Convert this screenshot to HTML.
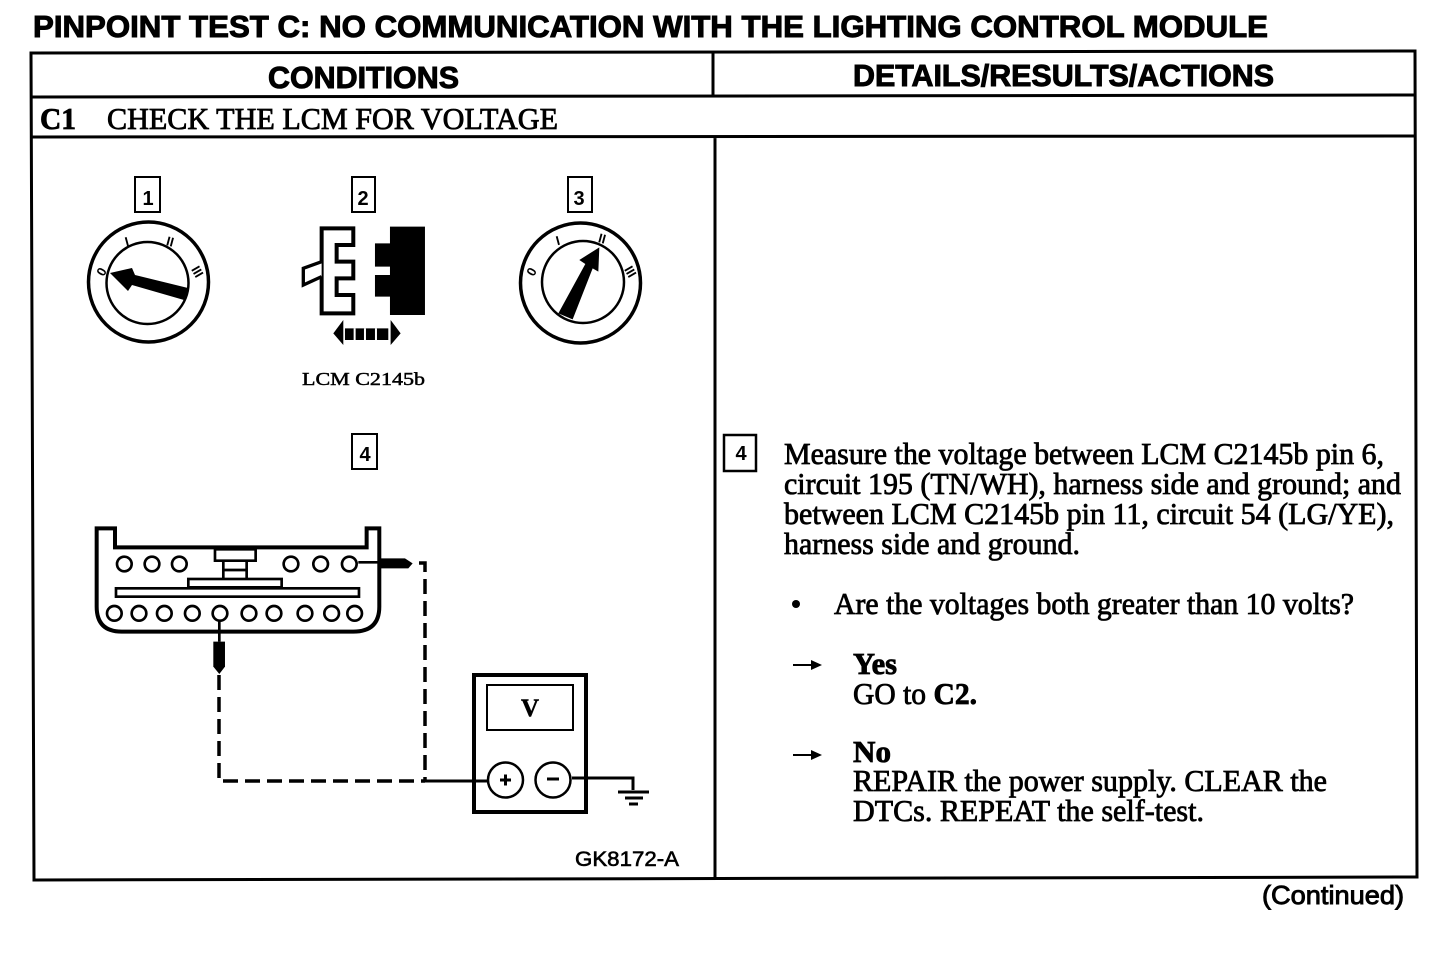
<!DOCTYPE html>
<html><head><meta charset="utf-8"><style>
html,body{margin:0;padding:0;background:#fff}
svg{display:block}
.s{font-family:"Liberation Serif",serif;fill:#000;stroke:#000;stroke-width:.8;font-size:31px}
.h{font-family:"Liberation Sans",sans-serif;font-weight:bold;fill:#000;stroke:#000;stroke-width:1}
</style></head><body>
<svg width="1456" height="960" viewBox="0 0 1456 960" xmlns="http://www.w3.org/2000/svg">
<rect width="1456" height="960" fill="#fff"/>
<text class="h" x="33" y="37" font-size="31" textLength="1235" lengthAdjust="spacingAndGlyphs">PINPOINT TEST C:  NO COMMUNICATION WITH THE LIGHTING CONTROL MODULE</text>
<g fill="none" stroke="#000" stroke-width="3">
<path d="M31 53L1415 51L1417 877L34 880Z"/>
<path d="M31.500 97L1415 95M32 137L1416 136M713 53V96M715 138V879"/>
</g>
<text class="h" x="268" y="88" font-size="31" textLength="191" lengthAdjust="spacingAndGlyphs">CONDITIONS</text>
<text class="h" x="853" y="86" font-size="31" textLength="421" lengthAdjust="spacingAndGlyphs">DETAILS/RESULTS/ACTIONS</text>
<text class="s" x="40" y="129" font-weight="bold" textLength="36" lengthAdjust="spacingAndGlyphs">C1</text>
<text class="s" x="107" y="129" textLength="451" lengthAdjust="spacingAndGlyphs">CHECK THE LCM FOR VOLTAGE</text>

<g fill="none" stroke="#000" stroke-width="2">
<rect x="135" y="177" width="25" height="35"/><rect x="352" y="177" width="23" height="35"/><rect x="568" y="177" width="24" height="35"/><rect x="352" y="434" width="25" height="35"/>
<rect x="724" y="435" width="32" height="36" stroke-width="2.500"/>
</g>
<g font-family="Liberation Sans,sans-serif" font-weight="bold" font-size="20" text-anchor="middle">
<text x="148" y="205">1</text><text x="363" y="205">2</text><text x="579" y="205">3</text><text x="365" y="461">4</text><text x="741" y="460">4</text>
</g>

<!-- switch 1 -->
<g fill="none" stroke="#000">
<circle cx="148.500" cy="282" r="60" stroke-width="3.500"/>
<circle cx="147.500" cy="283" r="41" stroke-width="2.500"/>
</g>
<path d="M110 273L132 268L135 275L188 288L184 300L132 285L128 291Z"/>
<g font-family="Liberation Sans,sans-serif" font-weight="bold" font-size="13" text-anchor="middle">
<text x="102" y="276" transform="rotate(-60 102 272)">0</text><text x="127" y="246" transform="rotate(-15 127 242)">I</text><text x="170" y="246" transform="rotate(15 170 242)">II</text><text x="197" y="276" transform="rotate(60 197 272)">III</text>
</g>

<!-- connector -->
<g transform="translate(60 160) scale(.3333)">
<path d="M785 205H880V255H830V305H880V355H830V405H880V460H785Z" fill="#fff" stroke="#000" stroke-width="12"/>
<path d="M785 305L730 325V375L785 350" fill="#fff" stroke="#000" stroke-width="10"/>
<path d="M990 200H1095V465H990V410H945V345H990V320H945V250H990Z"/>
<path d="M820 520L850 480V555Z"/><path d="M1022 520L992 480V555Z"/>
<path d="M855 505H985V540H855Z"/>
<path d="M884 505V540M915 505V540M948 505V540" stroke="#fff" stroke-width="6"/>
</g>
<text class="s" x="302" y="385" font-size="18" textLength="123" lengthAdjust="spacingAndGlyphs" style="font-size:18px;stroke-width:.5">LCM C2145b</text>

<!-- switch 3 -->
<g fill="none" stroke="#000">
<circle cx="580.500" cy="283" r="60" stroke-width="3.500"/>
<circle cx="583" cy="282" r="41" stroke-width="2.500"/>
</g>
<g transform="translate(480 160) scale(.3333)">
<path d="M358 262L298 300L316 312L235 460L278 478L338 325L355 335Z"/>
</g>
<g font-family="Liberation Sans,sans-serif" font-weight="bold" font-size="13" text-anchor="middle">
<text x="532" y="276" transform="rotate(-60 532 272)">0</text><text x="558" y="245" transform="rotate(-15 558 241)">I</text><text x="602" y="243" transform="rotate(15 602 239)">II</text><text x="630" y="276" transform="rotate(60 630 272)">III</text>
</g>

<!-- module -->
<g transform="translate(80 510) scale(.3333)" fill="none" stroke="#000">
<path d="M50 55H105V112H860V55H898V290Q898 365 820 365H125Q50 365 50 290Z" stroke-width="12"/>
<g stroke-width="8">
<circle cx="133" cy="162" r="22"/><circle cx="216" cy="162" r="22"/><circle cx="298" cy="162" r="22"/><circle cx="633" cy="162" r="22"/><circle cx="722" cy="162" r="22"/><circle cx="808" cy="162" r="22"/>
<circle cx="103" cy="310" r="22"/><circle cx="177" cy="310" r="22"/><circle cx="253" cy="310" r="22"/><circle cx="337" cy="310" r="22"/><circle cx="420" cy="310" r="22"/><circle cx="507" cy="310" r="22"/><circle cx="582" cy="310" r="22"/><circle cx="675" cy="310" r="22"/><circle cx="755" cy="310" r="22"/><circle cx="824" cy="310" r="22"/>
<path d="M405 118H527V152H405ZM430 152V205M500 152V205M430 180H500"/>
<rect x="325" y="207" width="280" height="25"/><rect x="108" y="235" width="729" height="25"/>
<path d="M835 157H900M418 332V395"/>
</g>
<path d="M900 145H975L998 160L985 175H900Z" fill="#000" stroke="none"/>
<path d="M400 395H435V470L418 492L400 470Z" fill="#000" stroke="none"/>
</g>

<!-- wiring -->
<g fill="none" stroke="#000" stroke-width="3.500">
<path d="M419 563H425V781" stroke-dasharray="15 7"/>
<path d="M219 675V781H425" stroke-dasharray="15 7"/>
<path d="M425 781H488M572 778H633V790" stroke-width="3"/>
<path d="M618 792H649M625 798H643M629 804H638" stroke-width="3"/>
</g>

<!-- meter -->
<rect x="474" y="675" width="112" height="137" fill="none" stroke="#000" stroke-width="4"/>
<rect x="487" y="685" width="86" height="45" fill="none" stroke="#000" stroke-width="2"/>
<text x="530" y="716" font-family="Liberation Serif,serif" font-weight="bold" font-size="25" text-anchor="middle" stroke="#000" stroke-width=".5">V</text>
<circle cx="505.500" cy="780" r="17.500" fill="#fff" stroke="#000" stroke-width="2.500"/>
<circle cx="553" cy="780" r="17.500" fill="#fff" stroke="#000" stroke-width="2.500"/>
<path d="M500 780H511M505.500 774.500V785.500M547 779H559" stroke="#000" stroke-width="3" fill="none"/>
<text x="575" y="866" font-family="Liberation Sans,sans-serif" font-size="21" textLength="104" lengthAdjust="spacingAndGlyphs" stroke="#000" stroke-width=".6">GK8172-A</text>

<!-- text -->
<text class="s" x="784" y="464" textLength="600" lengthAdjust="spacingAndGlyphs">Measure the voltage between LCM C2145b pin 6,</text>
<text class="s" x="784" y="494" textLength="617" lengthAdjust="spacingAndGlyphs">circuit 195 (TN/WH), harness side and ground; and</text>
<text class="s" x="784" y="524" textLength="610" lengthAdjust="spacingAndGlyphs">between LCM C2145b pin 11, circuit 54 (LG/YE),</text>
<text class="s" x="784" y="554" textLength="296" lengthAdjust="spacingAndGlyphs">harness side and ground.</text>
<circle cx="796" cy="604" r="4"/>
<text class="s" x="834" y="614" textLength="520" lengthAdjust="spacingAndGlyphs">Are the voltages both greater than 10 volts?</text>
<path d="M793 665H814M793 755H814" stroke="#000" stroke-width="2"/>
<path d="M822 665L811 660V670ZM822 755L811 750V760Z"/>
<text class="s" x="853" y="674" font-weight="bold" textLength="44" lengthAdjust="spacingAndGlyphs">Yes</text>
<text class="s" x="853" y="704" textLength="124" lengthAdjust="spacingAndGlyphs">GO to <tspan font-weight="bold">C2.</tspan></text>
<text class="s" x="853" y="762" font-weight="bold" textLength="38" lengthAdjust="spacingAndGlyphs">No</text>
<text class="s" x="853" y="791" textLength="474" lengthAdjust="spacingAndGlyphs">REPAIR the power supply. CLEAR the</text>
<text class="s" x="853" y="821" textLength="351" lengthAdjust="spacingAndGlyphs">DTCs. REPEAT the self-test.</text>
<text x="1262" y="904" font-family="Liberation Sans,sans-serif" font-size="26" textLength="142" lengthAdjust="spacingAndGlyphs" stroke="#000" stroke-width=".9">(Continued)</text>
</svg>
</body></html>
